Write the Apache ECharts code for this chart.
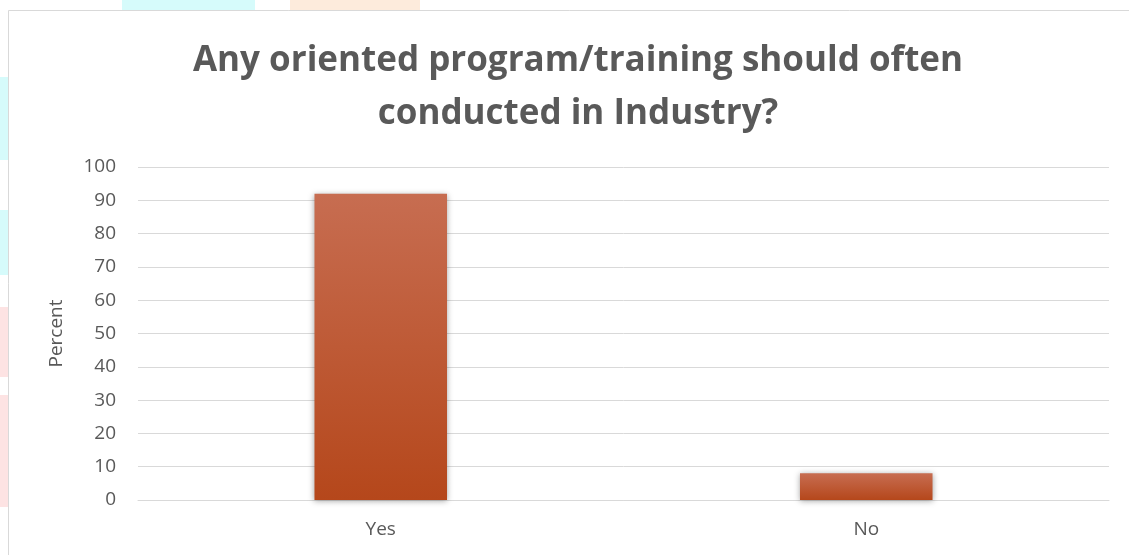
<!DOCTYPE html>
<html><head><meta charset="utf-8">
<script src="https://cdn.jsdelivr.net/npm/echarts@6/dist/echarts.min.js"></script>
<style>html,body{margin:0;padding:0;background:#fff}#c{width:1129px;height:555px}</style>
</head><body><div id="c"></div>
<script>
const titleText = "Any oriented program/training should often\nconducted in Industry?";
const categories = ["Yes", "No"];
const percentValues = [92, 8];
const yTicks = [0, 10, 20, 30, 40, 50, 60, 70, 80, 90, 100];
const yAxisName = "Percent";

const chart = echarts.init(document.getElementById('c'));
chart.setOption({
  backgroundColor: '#fff',
  animation: false,
  graphic: [
    {type:'rect', shape:{x:122,y:0,width:133,height:10}, style:{fill:'#d6fbfb'}, z:-10},
    {type:'rect', shape:{x:290,y:0,width:130,height:10}, style:{fill:'#fdebdc'}, z:-10},
    {type:'rect', shape:{x:0,y:77,width:8,height:83}, style:{fill:'#d6fbfb'}, z:-10},
    {type:'rect', shape:{x:0,y:210,width:8,height:65}, style:{fill:'#d6fbfb'}, z:-10},
    {type:'rect', shape:{x:0,y:307,width:8,height:70}, style:{fill:'#fde3e3'}, z:-10},
    {type:'rect', shape:{x:0,y:395,width:8,height:112}, style:{fill:'#fde3e3'}, z:-10},
    {type:'rect', shape:{x:8.5,y:10.5,width:1130,height:560}, style:{fill:'#fff', stroke:'#d9d9d9', lineWidth:1}, z:-5}
  ],
  title: {
    text: titleText,
    left: 573, top: 30, textAlign: 'center',
    textStyle: {fontFamily: 'Open Sans', fontWeight: 'bold', fontSize: 35, color: '#595959', lineHeight: 53}
  },
  grid: {left: 138, right: 20, top: 167, bottom: 55, containLabel: false},
  xAxis: {
    type: 'category', data: categories,
    axisLine: {show: true, lineStyle: {color: '#d9d9d9'}},
    axisTick: {show: false},
    axisLabel: {fontFamily: 'Open Sans', fontSize: 19, color: '#595959', margin: 20}
  },
  yAxis: {
    type: 'value', min: 0, max: 100, interval: 10,
    name: yAxisName, nameLocation: 'middle', nameGap: 72,
    nameTextStyle: {fontFamily: 'Open Sans', fontSize: 19, color: '#595959'},
    axisLine: {show: false}, axisTick: {show: false},
    axisLabel: {fontFamily: 'Open Sans', fontSize: 19, color: '#595959', margin: 22,
      formatter: v => yTicks.includes(v) ? String(v) : ''},
    splitLine: {lineStyle: {color: '#d9d9d9', width: 1}}
  },
  series: [{
    type: 'bar', data: percentValues, barWidth: '27.3%',
    itemStyle: {
      color: new echarts.graphic.LinearGradient(0, 0, 0, 1, [
        {offset: 0, color: '#c76d51'}, {offset: 1, color: '#b5471b'}
      ]),
      shadowColor: 'rgba(0,0,0,0.35)', shadowBlur: 6, shadowOffsetX: 0, shadowOffsetY: 1
    }
  }]
});
</script></body></html>
